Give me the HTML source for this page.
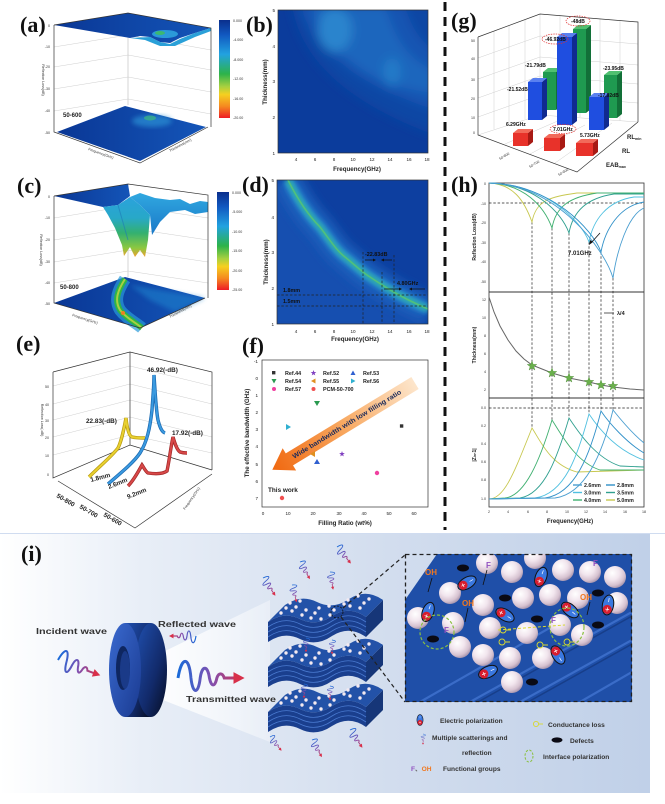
<!DOCTYPE html>
<html><head><meta charset="utf-8">
<style>
html,body{margin:0;padding:0;background:#fff;}
svg{display:block;}
text{font-family:"Liberation Sans",Arial,sans-serif;}
.pl{font-family:"Liberation Serif",serif;font-weight:bold;font-size:22px;fill:#111;}
.t{font-size:4.6px;fill:#222;}
.ts{font-size:3.6px;fill:#333;}
.b{font-weight:bold;}
.ax{fill:none;stroke:#333;stroke-width:.7;}
.gl{fill:none;stroke:#cfcfcf;stroke-width:.5;}
.dsh{fill:none;stroke:#222;stroke-width:.7;stroke-dasharray:2.5,1.8;}
</style></head><body>
<svg width="665" height="804" viewBox="0 0 665 804" xmlns="http://www.w3.org/2000/svg" xmlns:xlink="http://www.w3.org/1999/xlink">
<defs>
 <linearGradient id="cmap" x1="0" y1="0" x2="0" y2="1">
  <stop offset="0" stop-color="#0a2f8c"/><stop offset="0.15" stop-color="#1158c0"/>
  <stop offset="0.35" stop-color="#22a2e0"/><stop offset="0.55" stop-color="#2db34a"/>
  <stop offset="0.68" stop-color="#a8d040"/><stop offset="0.76" stop-color="#f5d020"/>
  <stop offset="0.88" stop-color="#f58a20"/><stop offset="1" stop-color="#ee1c25"/>
 </linearGradient>
 <linearGradient id="dbl" x1="0" y1="0" x2="1" y2="0">
  <stop offset="0" stop-color="#0a3795"/><stop offset="1" stop-color="#1455b8"/>
 </linearGradient>
 <linearGradient id="valley" x1="0" y1="0" x2="0" y2="1">
  <stop offset="0" stop-color="#2aa2dc"/><stop offset="0.35" stop-color="#28a8c8"/><stop offset="0.6" stop-color="#33b070"/>
  <stop offset="0.85" stop-color="#8cc840"/><stop offset="1" stop-color="#f0a030"/>
 </linearGradient>
 <linearGradient id="cyan" x1="0" y1="0" x2="0" y2="1">
  <stop offset="0" stop-color="#30a8e0"/><stop offset="1" stop-color="#1a78c8"/>
 </linearGradient>
 <linearGradient id="ibg" x1="0" y1="0" x2="1" y2="0">
  <stop offset="0" stop-color="#ffffff"/><stop offset="0.22" stop-color="#e8eef7"/>
  <stop offset="0.6" stop-color="#d2ddee"/><stop offset="1" stop-color="#c0d0e8"/>
 </linearGradient>
 <linearGradient id="wg" gradientUnits="userSpaceOnUse" x1="0" y1="0" x2="36" y2="0">
  <stop offset="0" stop-color="#1a6ad8"/><stop offset="0.5" stop-color="#8050b0"/><stop offset="1" stop-color="#d8304a"/>
 </linearGradient>
 <linearGradient id="arr" gradientUnits="userSpaceOnUse" x1="0" y1="0" x2="167" y2="0">
  <stop offset="0" stop-color="#fde6cc"/><stop offset="0.5" stop-color="#f8a860"/><stop offset="1" stop-color="#f06810"/>
 </linearGradient>
 <linearGradient id="ringb" x1="0" y1="0" x2="1" y2="1">
  <stop offset="0" stop-color="#2050b0"/><stop offset="0.6" stop-color="#122a6a"/><stop offset="1" stop-color="#060c20"/>
 </linearGradient>
 <linearGradient id="ringf" x1="0" y1="0" x2="1" y2="1">
  <stop offset="0" stop-color="#3a6ad0"/><stop offset="1" stop-color="#1a3a90"/>
 </linearGradient>
 <linearGradient id="cone" x1="0" y1="0" x2="1" y2="0">
  <stop offset="0" stop-color="#ffffff" stop-opacity="0.9"/><stop offset="1" stop-color="#ffffff" stop-opacity="0.35"/>
 </linearGradient>
 <radialGradient id="sph" cx="0.38" cy="0.32" r="0.7">
  <stop offset="0" stop-color="#ffffff"/><stop offset="0.45" stop-color="#f2e6ee"/>
  <stop offset="0.8" stop-color="#d6c2d0"/><stop offset="1" stop-color="#a896ae"/>
 </radialGradient>
 <filter id="bl" x="-20%" y="-20%" width="140%" height="140%"><feGaussianBlur stdDeviation="5"/></filter>
 <filter id="bl2" x="-20%" y="-20%" width="140%" height="140%"><feGaussianBlur stdDeviation="2.5"/></filter>
 <clipPath id="cb"><rect x="278" y="10" width="150" height="143"/></clipPath>
 <clipPath id="cd"><rect x="277" y="180" width="151" height="144"/></clipPath>
 <clipPath id="cin"><rect x="405" y="554" width="227" height="148"/></clipPath>
 <g id="wave">
  <path d="M0,0 C2,-12 6,-12 7,0 C8,9 11,9 12,0 C13,-7 16,-7 17,0 C18,5 20,5 21,0 C22,-3 24,-3 25,0 L31,0" fill="none" stroke="url(#wg)" stroke-width="1.6"/>
  <path d="M30,-3.2 L36,0 L30,3.2 Z" fill="#d8304a"/>
 </g>
 <g id="dip">
  <ellipse rx="10" ry="5.6" fill="#3a78e0" stroke="#111" stroke-width="1"/>
  <circle cx="-4.5" r="4.5" fill="#d81e2e"/>
  <path d="M-6.5,0h4M-4.5,-2v4M3,0h4" stroke="#fff" stroke-width=".7"/>
 </g>
 <path id="star" d="M0,-5 L1.18,-1.62 L4.76,-1.55 L1.9,0.62 L2.94,4.05 L0,2 L-2.94,4.05 L-1.9,0.62 L-4.76,-1.55 L-1.18,-1.62 Z" fill="#6ab04c" stroke="#4a8a34" stroke-width=".4"/>
 <path id="pstar" d="M0,-5 L1.18,-1.62 L4.76,-1.55 L1.9,0.62 L2.94,4.05 L0,2 L-2.94,4.05 L-1.9,0.62 L-4.76,-1.55 L-1.18,-1.62 Z" fill="#8040c0"/>
 <g id="stack">
  <path d="M268,622 Q284,611 300,619 Q316,627 332,616 Q349,605 366,617 L366,637 Q349,625 332,636 Q316,647 300,639 Q284,631 268,642 Z" fill="#1a3f8e"/>
  <path d="M366,617 L383,600 L383,620 L366,637 Z" fill="#163678"/>
  <path d="M268,627 Q284,616 300,624 Q316,632 332,621 Q349,610 366,622 M268,632 Q284,621 300,629 Q316,637 332,626 Q349,615 366,627 M268,637 Q284,626 300,634 Q316,642 332,631 Q349,620 366,632" fill="none" stroke="#4a7ad0" stroke-width=".8"/>
  <path d="M268,622 Q284,611 300,619 Q316,627 332,616 Q349,605 366,617 L383,600 Q366,588 349,599 Q333,610 317,602 Q301,594 285,605 Z" fill="#2352a8"/>
  <g fill="#f4eaf0">
   <circle cx="281" cy="613" r="1.7"/><circle cx="292" cy="611" r="1.7"/><circle cx="302" cy="615" r="1.7"/><circle cx="321" cy="619" r="1.7"/><circle cx="330" cy="615" r="1.7"/><circle cx="350" cy="606" r="1.7"/><circle cx="360" cy="608" r="1.7"/>
   <circle cx="286" cy="608" r="1.7"/><circle cx="306" cy="610" r="1.7"/><circle cx="315" cy="613" r="1.7"/><circle cx="334" cy="610" r="1.7"/><circle cx="344" cy="604" r="1.7"/><circle cx="364" cy="603" r="1.7"/>
   <circle cx="290" cy="603" r="1.7"/><circle cx="300" cy="601" r="1.7"/><circle cx="319" cy="608" r="1.7"/><circle cx="329" cy="606" r="1.7"/><circle cx="348" cy="600" r="1.7"/><circle cx="358" cy="596" r="1.7"/><circle cx="369" cy="599" r="1.7"/><circle cx="311" cy="618" r="1.7"/><circle cx="296" cy="607" r="1.7"/>
  </g>
 </g>
</defs>

<rect width="665" height="804" fill="#fff"/>

<!-- ============ (a) ============ -->
<text class="pl" x="20" y="32">(a)</text>
<path class="gl" d="M54,47 L128,35 M54,67 L128,55 M54,89 L128,77 M54,111 L128,99 M128,35 L211,50 M128,55 L211,70 M128,77 L211,92 M128,99 L211,114"/>
<path d="M128,13 L128,105" stroke="#bbb" stroke-width=".6"/>
<polygon points="57,132 125,106 206,127 140,161" fill="url(#dbl)"/>
<ellipse cx="152" cy="121" rx="20" ry="6" fill="#2a90d4" opacity=".7" filter="url(#bl2)"/>
<ellipse cx="150" cy="118" rx="6" ry="2.5" fill="#3cb880" opacity=".7"/>
<polygon points="54,25 128,13 211,28 195,33 180,38 170,43 160,42 150,37 140,36 130,38" fill="url(#dbl)"/>
<polygon points="130,38 150,37 160,42 170,44 180,39 195,33 211,28 211,31 195,37 175,46 160,46 145,40" fill="#2aa0d8"/>
<ellipse cx="165" cy="34" rx="13" ry="4" fill="#30a8e0" opacity=".85"/>
<ellipse cx="160" cy="33" rx="5" ry="2" fill="#3cb870"/>
<path class="ax" d="M54,25 L54,132 L140,163 L208,127 M54,25 L128,13 L211,28 L211,127"/>
<text class="ts" x="50" y="27" text-anchor="end">0</text>
<text class="ts" x="50" y="48" text-anchor="end">-10</text>
<text class="ts" x="50" y="68" text-anchor="end">-20</text>
<text class="ts" x="50" y="90" text-anchor="end">-30</text>
<text class="ts" x="50" y="112" text-anchor="end">-40</text>
<text class="ts" x="50" y="134" text-anchor="end">-50</text>
<text class="ts" transform="translate(42,80) rotate(90)" text-anchor="middle">Reflection Loss(dB)</text>
<text class="ts" transform="translate(88,150) rotate(20)">Frequency(GHz)</text>
<text class="ts" transform="translate(170,152) rotate(-28)">Thickness(mm)</text>
<text x="63" y="117" font-size="6" font-weight="bold" fill="#222">50-600</text>
<rect x="219" y="20" width="11" height="98" fill="url(#cmap)"/>
<g class="ts" font-size="3.4"><text x="233" y="22">0.000</text><text x="233" y="41">-4.000</text><text x="233" y="61">-8.000</text><text x="233" y="80">-12.00</text><text x="233" y="100">-16.00</text><text x="233" y="119">-20.00</text></g>

<!-- ============ (b) ============ -->
<text class="pl" x="246" y="32">(b)</text>
<rect x="278" y="10" width="150" height="143" fill="#0b3c9c"/>
<g clip-path="url(#cb)">
 <g filter="url(#bl)">
  <path d="M292,5 C300,55 340,100 435,135 L435,5 Z" fill="#0f46a4"/>
  <path d="M300,5 C312,45 350,82 435,110 L435,50 C420,42 410,25 405,5 Z" fill="#1554b2"/>
  <path d="M312,5 C320,38 346,62 380,80 C400,88 415,90 435,94 L435,70 C410,62 395,40 385,5 Z" fill="#1c66bd"/>
  <ellipse cx="335" cy="30" rx="17" ry="22" fill="#2a84cd"/>
  <ellipse cx="392" cy="72" rx="9" ry="14" fill="#247ac8"/>
 </g>
</g>
<rect x="278" y="10" width="150" height="143" class="ax"/>
<g class="t" text-anchor="end"><text x="275" y="12">5</text><text x="275" y="48">4</text><text x="275" y="83">3</text><text x="275" y="119">2</text><text x="275" y="155">1</text></g>
<g class="t" text-anchor="middle"><text x="296" y="161">4</text><text x="315" y="161">6</text><text x="334" y="161">8</text><text x="353" y="161">10</text><text x="372" y="161">12</text><text x="390" y="161">14</text><text x="409" y="161">16</text><text x="427" y="161">18</text></g>
<text x="357" y="171" font-size="6.2" font-weight="bold" fill="#222" text-anchor="middle">Frequency(GHz)</text>
<text transform="translate(267,82) rotate(-90)" font-size="6.2" font-weight="bold" fill="#222" text-anchor="middle">Thickness(mm)</text>

<!-- ============ (c) ============ -->
<text class="pl" x="17" y="193">(c)</text>
<path class="gl" d="M54,218 L128,206 M54,240 L128,228 M54,262 L128,250 M54,283 L128,271 M128,206 L208,218 M128,228 L208,240 M128,250 L208,262 M128,271 L208,283"/>
<path d="M128,184 L128,277" stroke="#bbb" stroke-width=".6"/>
<polygon points="54,303 125,277 205,298 140,328" fill="url(#dbl)"/>
<polygon points="130,285 205,298 175,312 150,300" fill="#1e80cc" opacity=".6" filter="url(#bl2)"/>
<path d="M125,279 C118,290 114,300 120,310 C126,318 135,322 142,328" fill="none" stroke="#2a9ad8" stroke-width="12" opacity=".7"/>
<path d="M125,279 C118,290 114,300 120,310 C126,318 135,322 142,328" fill="none" stroke="#2db34a" stroke-width="6"/>
<path d="M125,279 C118,290 114,300 120,310 C126,318 135,322 142,328" fill="none" stroke="#a8d040" stroke-width="2"/>
<circle cx="123" cy="313" r="2" fill="#f08020"/>
<polygon points="54,196 128,184 130,196 118,205 103,207" fill="url(#dbl)"/>
<polygon points="130,197 140,193 155,198 170,200 180,199 190,204 200,201 208,202 208,212 195,214 185,210 170,212 160,222 152,235 150,215 140,205" fill="url(#cyan)"/>
<polygon points="103,207 118,205 130,197 140,205 150,215 148,240 145,257 140,250 135,257 130,247 124,256 122,245 115,228 108,215" fill="url(#valley)"/>
<path d="M118,205 L128,240" stroke="#1e7ab8" stroke-width="1" opacity=".6"/>
<path class="ax" d="M54,196 L54,303 L140,328 M140,328 L205,298 M54,196 L128,184 L208,195 L208,298"/>
<text class="ts" x="50" y="198" text-anchor="end">0</text>
<text class="ts" x="50" y="219" text-anchor="end">-10</text>
<text class="ts" x="50" y="241" text-anchor="end">-20</text>
<text class="ts" x="50" y="263" text-anchor="end">-30</text>
<text class="ts" x="50" y="284" text-anchor="end">-40</text>
<text class="ts" x="50" y="305" text-anchor="end">-50</text>
<text class="ts" transform="translate(40,250) rotate(90)" text-anchor="middle">Reflection Loss(dB)</text>
<text class="ts" transform="translate(72,316) rotate(18)">Frequency(GHz)</text>
<text class="ts" transform="translate(170,318) rotate(-28)">Thickness(mm)</text>
<text x="60" y="289" font-size="6" font-weight="bold" fill="#222">50-800</text>
<rect x="217" y="192" width="12" height="98" fill="url(#cmap)"/>
<g class="ts" font-size="3.4"><text x="232" y="194">0.000</text><text x="232" y="213">-5.000</text><text x="232" y="233">-10.00</text><text x="232" y="252">-15.00</text><text x="232" y="272">-20.00</text><text x="232" y="291">-25.00</text></g>

<!-- ============ (d) ============ -->
<text class="pl" x="242" y="192">(d)</text>
<rect x="277" y="180" width="151" height="144" fill="#0d3fa0"/>
<g clip-path="url(#cd)">
 <path d="M270,180 L288,180 C298,200 308,215 320,227 C336,248 360,272 428,309 L428,330 L270,330 Z" fill="#1550b0" filter="url(#bl)"/>
 <path d="M288,180 C298,200 308,215 320,227 C330,240 336,250 345,257 C355,265 362,272 370,277 C385,287 400,297 428,309" fill="none" stroke="#1c60bc" stroke-width="26" filter="url(#bl)"/>
 <path d="M288,180 C298,200 308,215 320,227 C330,240 336,250 345,257 C355,265 362,272 370,277 C385,287 400,297 428,309" fill="none" stroke="#2898d4" stroke-width="10" filter="url(#bl2)"/>
 <path d="M288,180 C298,200 308,215 320,227 C330,240 336,250 345,257 C355,265 362,272 370,277 C385,287 400,297 428,309" fill="none" stroke="#38b48a" stroke-width="3.5" filter="url(#bl2)"/>
 <path d="M288,180 C298,200 308,215 320,227 C330,240 336,250 345,257 C355,265 362,272 370,277 C385,287 400,297 428,309" fill="none" stroke="#50c07c" stroke-width="1.6"/>
</g>
<path class="dsh" d="M277,295 L428,295 M277,306 L428,306 M363,252 L363,324 M382,272 L382,324 M394,255 L394,324"/>
<path d="M365,260 L373,260 M392,260 L384,260 M384,289 L399,289 M425,289 L412,289" stroke="#111" stroke-width=".7"/>
<path d="M373,258.5 L376,260 L373,261.5Z M384,258.5 L381,260 L384,261.5Z M399,287.5 L402,289 L399,290.5Z M412,287.5 L409,289 L412,290.5Z" fill="#111"/>
<text x="365" y="256" font-size="5.4" font-weight="bold" fill="#111">-22.83dB</text>
<text x="397" y="285" font-size="5.4" font-weight="bold" fill="#111">4.80GHz</text>
<text x="283" y="292" font-size="5.4" font-weight="bold" fill="#111">1.8mm</text>
<text x="283" y="303" font-size="5.4" font-weight="bold" fill="#111">1.5mm</text>
<rect x="277" y="180" width="151" height="144" class="ax"/>
<g class="t" text-anchor="end"><text x="274" y="182">5</text><text x="274" y="219">4</text><text x="274" y="254">3</text><text x="274" y="290">2</text><text x="274" y="326">1</text></g>
<g class="t" text-anchor="middle"><text x="296" y="333">4</text><text x="315" y="333">6</text><text x="334" y="333">8</text><text x="353" y="333">10</text><text x="372" y="333">12</text><text x="390" y="333">14</text><text x="409" y="333">16</text><text x="427" y="333">18</text></g>
<text x="355" y="341" font-size="6.2" font-weight="bold" fill="#222" text-anchor="middle">Frequency(GHz)</text>
<text transform="translate(268,262) rotate(-90)" font-size="6.2" font-weight="bold" fill="#222" text-anchor="middle">Thickness(mm)</text>

<!-- ============ (e) ============ -->
<text class="pl" x="16" y="351">(e)</text>
<path class="gl" d="M53,386 L130,366 M53,404 L130,384 M53,420 L130,400 M53,437 L130,417 M53,455 L130,435 M130,366 L212,386 M130,384 L212,404 M130,400 L212,420 M130,417 L212,437 M130,435 L212,453"/>
<path class="ax" d="M53,372 L53,478 L130,445 L212,470 M53,372 L130,352 L212,372 L212,470 M130,352 L130,445 M58,481 L135,528 L212,474"/>
<g class="ts"><text x="49" y="388" text-anchor="end">50</text><text x="49" y="406" text-anchor="end">40</text><text x="49" y="422" text-anchor="end">30</text><text x="49" y="439" text-anchor="end">20</text><text x="49" y="457" text-anchor="end">10</text><text x="49" y="476" text-anchor="end">0</text></g>
<text class="ts" transform="translate(41,420) rotate(90)" text-anchor="middle">Reflection Loss(-dB)</text>
<text class="ts" transform="translate(185,510) rotate(-55)">Frequency(GHz)</text>
<path d="M89,477 C100,466 112,456 118,448 C122,440 124,428 126,418 C127,428 129,436 132,437 C136,438 140,438 145,438" fill="none" stroke="#b89a10" stroke-width="3.4"/>
<path d="M89,477 C100,466 112,456 118,448 C122,440 124,428 126,418 C127,428 129,436 132,437 C136,438 140,438 145,438" fill="none" stroke="#e8d030" stroke-width="2"/>
<path d="M108,484 C122,472 134,462 140,453 C147,442 150,428 152,410 C153,395 154,385 154,375 C155,390 156,410 158,420 C160,428 162,432 165,433" fill="none" stroke="#1a68b0" stroke-width="3.4"/>
<path d="M108,484 C122,472 134,462 140,453 C147,442 150,428 152,410 C153,395 154,385 154,375 C155,390 156,410 158,420 C160,428 162,432 165,433" fill="none" stroke="#3a9ae0" stroke-width="2"/>
<path d="M128,486 C134,480 138,472 142,465 C144,468 146,472 148,473 C155,474 163,474 167,471 C169,462 171,446 173,437 C175,444 177,450 180,452 C183,453 185,453 187,453" fill="none" stroke="#a02828" stroke-width="3.4"/>
<path d="M128,486 C134,480 138,472 142,465 C144,468 146,472 148,473 C155,474 163,474 167,471 C169,462 171,446 173,437 C175,444 177,450 180,452 C183,453 185,453 187,453" fill="none" stroke="#d84848" stroke-width="2"/>
<g font-size="6.4" font-weight="bold" fill="#222">
 <text x="147" y="372">46.92(-dB)</text>
 <text x="86" y="423">22.83(-dB)</text>
 <text x="172" y="435">17.92(-dB)</text>
 <text transform="translate(91,482) rotate(-15)">1.8mm</text>
 <text transform="translate(109,489) rotate(-22)">2.6mm</text>
 <text transform="translate(128,499) rotate(-22)">9.2mm</text>
 <text transform="translate(56,497) rotate(30)">50-800</text>
 <text transform="translate(79,508) rotate(30)">50-700</text>
 <text transform="translate(103,516) rotate(30)">50-600</text>
</g>

<!-- ============ (f) ============ -->
<text class="pl" x="242" y="353">(f)</text>
<rect x="262" y="360" width="166" height="147" class="ax" stroke-width=".9"/>
<g transform="translate(415,383) rotate(148.7)">
 <polygon points="0,-7 147,-7 147,-13 167,0 147,13 147,7 0,7" fill="url(#arr)"/>
</g>
<text transform="translate(348,426) rotate(-31.3)" font-size="6.6" font-weight="bold" fill="#1a2a5a" text-anchor="middle" textLength="126" lengthAdjust="spacingAndGlyphs">Wide bandwidth with low filling ratio</text>
<rect x="272" y="371" width="3.4" height="3.4" fill="#333"/>
<use xlink:href="#pstar" transform="translate(313.5,373) scale(.6)"/>
<polygon points="350.5,375 355.5,375 353,370.5" fill="#3060d0"/>
<polygon points="271.5,379 276.5,379 274,383.5" fill="#2a9a50"/>
<polygon points="315.5,378.5 315.5,383.5 311,381" fill="#e09020"/>
<polygon points="351,378.5 351,383.5 355.5,381" fill="#30b0d0"/>
<circle cx="274" cy="389" r="2" fill="#f040a0"/>
<circle cx="313.5" cy="389" r="2" fill="#f05050"/>
<g font-size="5.4" font-weight="bold" fill="#222">
 <text x="285" y="375">Ref.44</text><text x="323" y="375">Ref.52</text><text x="363" y="375">Ref.53</text>
 <text x="285" y="383">Ref.54</text><text x="323" y="383">Ref.55</text><text x="363" y="383">Ref.56</text>
 <text x="285" y="391">Ref.57</text><text x="323" y="391">PCM-50-700</text>
</g>
<rect x="399.9" y="424.3" width="3.4" height="3.4" fill="#333"/>
<polygon points="314,401 320,401 317,406" fill="#2a9a50"/>
<polygon points="286,424 286,430 291,427" fill="#30b0d0"/>
<polygon points="315,451 315,457 310,454" fill="#e09020"/>
<use xlink:href="#pstar" transform="translate(342,454) scale(.6)"/>
<polygon points="314,464 320,464 317,459" fill="#3060d0"/>
<circle cx="377" cy="473" r="2.2" fill="#f040a0"/>
<circle cx="282" cy="498" r="2.2" fill="#f05050"/>
<text x="268" y="492" font-size="6.4" font-weight="bold" fill="#222">This work</text>
<g class="t" text-anchor="end"><text x="258" y="363">-1</text><text x="258" y="380">0</text><text x="258" y="397">1</text><text x="258" y="414">2</text><text x="258" y="431">3</text><text x="258" y="448">4</text><text x="258" y="466">5</text><text x="258" y="483">6</text><text x="258" y="500">7</text></g>
<g class="t" text-anchor="middle"><text x="263" y="515">0</text><text x="288" y="515">10</text><text x="313" y="515">20</text><text x="339" y="515">30</text><text x="364" y="515">40</text><text x="389" y="515">50</text><text x="414" y="515">60</text></g>
<text x="345" y="525" font-size="6.2" font-weight="bold" fill="#222" text-anchor="middle">Filling Ratio (wt%)</text>
<text transform="translate(249,433) rotate(-90)" font-size="6.2" font-weight="bold" fill="#222" text-anchor="middle">The effective bandwidth (GHz)</text>

<!-- separator -->
<line x1="445" y1="2" x2="445" y2="530" stroke="#111" stroke-width="3" stroke-dasharray="9,6"/>

<!-- ============ (g) ============ -->
<text class="pl" x="451" y="28">(g)</text>
<path class="gl" d="M478,58 L540,36 M478,79 L540,57 M478,98 L540,76 M478,117 L540,95 M540,36 L638,44 M540,57 L638,65 M540,76 L638,84 M540,95 L638,103 M560,15.6 L560,116 M580,17.2 L580,117 M600,18.8 L600,119 M620,20.4 L620,121 M494,31 L494,129 M509,26 L509,124 M525,20 L525,119 M540,14 L540,115 L638,122 M540,115 L478,135 M505,144 L560,120 M530,154 L585,125 M555,163 L612,123"/>
<path class="ax" d="M478,37 L540,14 L638,22 L638,122 M478,37 L478,135 L577,172 L638,122"/>
<g class="ts"><text x="475" y="42" text-anchor="end">50</text><text x="475" y="60" text-anchor="end">40</text><text x="475" y="81" text-anchor="end">30</text><text x="475" y="100" text-anchor="end">20</text><text x="475" y="119" text-anchor="end">10</text><text x="475" y="134" text-anchor="end">0</text></g>
<g class="ts"><text transform="translate(500,160) rotate(-30)">50-800</text><text transform="translate(530,168) rotate(-30)">50-700</text><text transform="translate(559,176) rotate(-30)">50-600</text></g>
<g>
 <rect x="543" y="72" width="13" height="38" fill="#1f9a50"/><polygon points="556,72 561,68 561,106 556,110" fill="#127038"/><polygon points="543,72 556,72 561,68 548,68" fill="#50c070"/>
 <rect x="573" y="29" width="13" height="84" fill="#1f9a50"/><polygon points="586,29 591,25 591,109 586,113" fill="#127038"/><polygon points="573,29 586,29 591,25 578,25" fill="#50c070"/>
 <rect x="604" y="75" width="13" height="43" fill="#1f9a50"/><polygon points="617,75 622,71 622,114 617,118" fill="#127038"/><polygon points="604,75 617,75 622,71 609,71" fill="#50c070"/>
</g>
<g>
 <rect x="528" y="82" width="14" height="38" fill="#1f4ee0"/><polygon points="542,82 547,78 547,116 542,120" fill="#102a90"/><polygon points="528,82 542,82 547,78 533,78" fill="#5a80f0"/>
 <rect x="557" y="37" width="15" height="88" fill="#1f4ee0"/><polygon points="572,37 577,33 577,121 572,125" fill="#102a90"/><polygon points="557,37 572,37 577,33 562,33" fill="#5a80f0"/>
 <rect x="589" y="97" width="15" height="33" fill="#1f4ee0"/><polygon points="604,97 609,93 609,126 604,130" fill="#102a90"/><polygon points="589,97 604,97 609,93 594,93" fill="#5a80f0"/>
</g>
<g>
 <rect x="513" y="133" width="15" height="13" fill="#e8322a"/><polygon points="528,133 533,129 533,142 528,146" fill="#a81a14"/><polygon points="513,133 528,133 533,129 518,129" fill="#f26a5a"/>
 <rect x="544" y="138" width="16" height="13" fill="#e8322a"/><polygon points="560,138 565,134 565,147 560,151" fill="#a81a14"/><polygon points="544,138 560,138 565,134 549,134" fill="#f26a5a"/>
 <rect x="576" y="143" width="17" height="13" fill="#e8322a"/><polygon points="593,143 598,139 598,152 593,156" fill="#a81a14"/><polygon points="576,143 593,143 598,139 581,139" fill="#f26a5a"/>
</g>
<g fill="none" stroke="#e03030" stroke-width=".7" stroke-dasharray="1.5,1">
 <ellipse cx="578" cy="21" rx="12" ry="5"/><ellipse cx="555" cy="39" rx="13" ry="5"/><ellipse cx="563" cy="129" rx="13" ry="4.5"/>
</g>
<g font-size="5" font-weight="bold" fill="#111">
 <text x="507" y="91">-21.52dB</text>
 <text x="525" y="67">-21.79dB</text>
 <text x="545" y="41">-46.92dB</text>
 <text x="571" y="23">-48dB</text>
 <text x="603" y="70">-23.95dB</text>
 <text x="598" y="97">-17.92dB</text>
 <text x="506" y="126">6.29GHz</text>
 <text x="553" y="131">7.01GHz</text>
 <text x="580" y="137">5.73GHz</text>
</g>
<g font-size="6" font-weight="bold" fill="#222">
 <text x="627" y="139">RL<tspan font-size="3.6" dy="1">min</tspan></text>
 <text x="622" y="153">RL</text>
 <text x="606" y="167">EAB<tspan font-size="3.6" dy="1">max</tspan></text>
</g>

<!-- ============ (h) ============ -->
<text class="pl" x="451" y="192">(h)</text>
<rect x="489" y="183" width="155" height="324" fill="none" stroke="#333" stroke-width=".8"/>
<line x1="489" y1="292" x2="644" y2="292" stroke="#333" stroke-width="1"/>
<line x1="489" y1="398" x2="644" y2="398" stroke="#333" stroke-width="1"/>
<path class="dsh" d="M489,203 L644,203 M489,408 L644,408 M532,222 L532,428 M552,228 L552,420 M569,233 L569,418 M589,242 L589,414 M601,252 L601,411 M613,278 L613,410" stroke-dasharray="3,2"/>
<g fill="none" stroke-width=".9">
 <path stroke="#c8c850" d="M489,183 C513,184 524,200 532,222 C536,200 550,197 577,193 L644,193"/>
 <path stroke="#40b070" d="M489,183 C524,184 544,206 552,228 C556,206 570,197 597,193 L644,193"/>
 <path stroke="#30a090" d="M489,183 C533,184 561,211 569,233 C573,211 587,198 614,194 L644,194"/>
 <path stroke="#50c0e0" d="M489,183 C544,184 581,220 589,242 C593,220 607,201 634,197 L644,197"/>
 <path stroke="#3090c8" d="M489,183 C551,184 593,230 601,252 C605,230 619,206 644,202"/>
 <path stroke="#4a9ed0" d="M489,183 C557,184 605,250 613,278 C617,250 628,215 644,208"/>
 <path stroke="#c8c850" d="M489,499 C505,499 515,470 532,428 C540,440 550,465 577,472 L644,470"/>
 <path stroke="#40b070" d="M489,499 L505,498 C525,496 540,460 552,420 C560,432 575,462 600,470 L644,470"/>
 <path stroke="#30a090" d="M489,499 L520,498 C545,494 558,455 569,418 C577,430 595,458 620,466 L644,467"/>
 <path stroke="#50c0e0" d="M489,499 L535,498 C565,494 578,455 589,414 C597,426 615,450 644,460"/>
 <path stroke="#3090c8" d="M489,499 L545,498 C575,494 590,455 601,411 C609,423 627,443 644,453"/>
 <path stroke="#4a9ed0" d="M489,499 L555,498 C585,494 602,455 613,410 C621,420 634,435 644,443"/>
 <polyline stroke="#666" stroke-width="1" points="489,297 494,312 500,326 508,340 516,351 524,359 532,365 542,369 552,373 569,378 589,382 601,385 613,387 630,389 644,390"/>
</g>
<use xlink:href="#star" x="532" y="366"/><use xlink:href="#star" x="552" y="373"/><use xlink:href="#star" x="569" y="378"/><use xlink:href="#star" x="589" y="382"/><use xlink:href="#star" x="601" y="385"/><use xlink:href="#star" x="613" y="386"/>
<line x1="604" y1="313" x2="614" y2="313" stroke="#333" stroke-width=".8"/>
<text x="617" y="315" font-size="5.5" font-weight="bold" fill="#222">λ/4</text>
<path d="M600,233 L591,243" stroke="#111" stroke-width=".8"/><path d="M589,245 L590,240 L593,242 Z" fill="#111"/>
<text x="568" y="255" font-size="6" font-weight="bold" fill="#222">7.01GHz</text>
<g class="ts" text-anchor="end"><text x="486" y="185">0</text><text x="486" y="205">-10</text><text x="486" y="224">-20</text><text x="486" y="244">-30</text><text x="486" y="263">-40</text><text x="486" y="283">-50</text>
<text x="486" y="301">12</text><text x="486" y="319">10</text><text x="486" y="337">8</text><text x="486" y="355">6</text><text x="486" y="373">4</text><text x="486" y="391">2</text>
<text x="486" y="409">0.0</text><text x="486" y="427">0.2</text><text x="486" y="445">0.4</text><text x="486" y="463">0.6</text><text x="486" y="481">0.8</text><text x="486" y="500">1.0</text></g>
<g class="ts" text-anchor="middle"><text x="489" y="513">2</text><text x="508" y="513">4</text><text x="528" y="513">6</text><text x="547" y="513">8</text><text x="567" y="513">10</text><text x="586" y="513">12</text><text x="605" y="513">14</text><text x="625" y="513">16</text><text x="644" y="513">18</text></g>
<text x="570" y="523" font-size="6" font-weight="bold" fill="#222" text-anchor="middle">Frequency(GHz)</text>
<g font-size="5" font-weight="bold" fill="#222" text-anchor="middle">
 <text transform="translate(476,237) rotate(-90)">Reflection Loss(dB)</text>
 <text transform="translate(476,345) rotate(-90)">Thickness(mm)</text>
 <text transform="translate(476,455) rotate(-90)">|Z<tspan font-size="3.4">in</tspan>-1|</text>
</g>
<g stroke-width="1.4">
 <line x1="573" y1="485" x2="582" y2="485" stroke="#4a9ed0"/><line x1="606" y1="485" x2="615" y2="485" stroke="#3090c8"/>
 <line x1="573" y1="492.5" x2="582" y2="492.5" stroke="#50c0e0"/><line x1="606" y1="492.5" x2="615" y2="492.5" stroke="#30a090"/>
 <line x1="573" y1="500" x2="582" y2="500" stroke="#40b070"/><line x1="606" y1="500" x2="615" y2="500" stroke="#c8c850"/>
</g>
<g font-size="5.3" font-weight="bold" fill="#222">
 <text x="584" y="487">2.6mm</text><text x="617" y="487">2.8mm</text>
 <text x="584" y="494.5">3.0mm</text><text x="617" y="494.5">3.5mm</text>
 <text x="584" y="502">4.0mm</text><text x="617" y="502">5.0mm</text>
</g>

<!-- ============ (i) ============ -->
<rect x="0" y="533" width="650" height="260" fill="url(#ibg)"/>
<line x1="0" y1="533.5" x2="665" y2="533.5" stroke="#d0dcf0" stroke-width="1"/>
<text class="pl" x="21" y="561">(i)</text>
<polygon points="163,652 163,700 270,742 270,600" fill="url(#cone)"/>
<rect x="125" y="623" width="26" height="94" fill="url(#ringb)"/>
<ellipse cx="151" cy="670" rx="16" ry="47" fill="url(#ringb)"/>
<ellipse cx="125" cy="670" rx="16" ry="47" fill="url(#ringf)"/>
<ellipse cx="123" cy="668" rx="7" ry="22" fill="#0e2660"/>
<ellipse cx="125" cy="670" rx="5" ry="19" fill="#1a3a88"/>
<g font-size="8.6" font-weight="bold" fill="#333">
 <text x="36" y="634" textLength="71" lengthAdjust="spacingAndGlyphs">Incident wave</text>
 <text x="158" y="627" textLength="78" lengthAdjust="spacingAndGlyphs">Reflected wave</text>
 <text x="186" y="702" textLength="90" lengthAdjust="spacingAndGlyphs">Transmitted wave</text>
</g>
<use xlink:href="#wave" transform="translate(58,660) rotate(20) scale(1.25)"/>
<use xlink:href="#wave" transform="translate(178,678) scale(1.85)"/>
<use xlink:href="#wave" transform="translate(196,636) rotate(180) scale(.75)"/>
<use xlink:href="#stack"/>
<use xlink:href="#stack" transform="translate(0,45)"/>
<use xlink:href="#stack" transform="translate(0,90)"/>
<use xlink:href="#wave" transform="translate(263,578) rotate(55) scale(.6)"/>
<use xlink:href="#wave" transform="translate(292,585) rotate(75) scale(.5)"/>
<use xlink:href="#wave" transform="translate(300,562) rotate(60) scale(.55)"/>
<use xlink:href="#wave" transform="translate(330,572) rotate(80) scale(.5)"/>
<use xlink:href="#wave" transform="translate(337,547) rotate(50) scale(.6)"/>
<use xlink:href="#wave" transform="translate(270,737) rotate(50) scale(.5)"/>
<use xlink:href="#wave" transform="translate(312,740) rotate(60) scale(.55)"/>
<use xlink:href="#wave" transform="translate(350,730) rotate(55) scale(.6)"/>
<use xlink:href="#wave" transform="translate(306,638) rotate(90) scale(.4)"/>
<use xlink:href="#wave" transform="translate(332,640) rotate(90) scale(.4)"/>
<use xlink:href="#wave" transform="translate(304,684) rotate(90) scale(.4)"/>
<use xlink:href="#wave" transform="translate(330,686) rotate(90) scale(.4)"/>
<circle cx="337" cy="612" r="6" fill="none" stroke="#111" stroke-width=".8" stroke-dasharray="2,1.5"/>
<path d="M343,608 L405,555 M341,617 L405,702" stroke="#222" stroke-width="1.2" stroke-dasharray="4,3"/>
<g clip-path="url(#cin)">
 <polygon points="405,600 437,554 632,554 632,702 405,702" fill="#1f4fa8"/>
 <path d="M470,702 L632,612 M520,702 L632,640 M580,702 L632,672 M420,702 L560,622" stroke="#3a6cc8" stroke-width="2.2"/>
 <path d="M478,702 L632,616 M528,702 L632,644" stroke="#173e8a" stroke-width="1.5"/>
 <g fill="#0a0a14">
  <ellipse cx="463" cy="568" rx="6" ry="3.5"/><ellipse cx="505" cy="598" rx="6" ry="3.5"/><ellipse cx="537" cy="619" rx="6" ry="3.5"/>
  <ellipse cx="598" cy="593" rx="6" ry="3.5"/><ellipse cx="598" cy="625" rx="6" ry="3.5"/><ellipse cx="433" cy="639" rx="6" ry="3.5"/><ellipse cx="532" cy="682" rx="6" ry="3.5"/>
 </g>
 <g fill="url(#sph)">
  <circle cx="487" cy="563" r="11"/><circle cx="512" cy="572" r="11"/><circle cx="535" cy="558" r="11"/><circle cx="563" cy="570" r="11"/><circle cx="590" cy="572" r="11"/><circle cx="615" cy="577" r="11"/>
  <circle cx="450" cy="593" r="11"/><circle cx="483" cy="605" r="11"/><circle cx="523" cy="598" r="11"/><circle cx="550" cy="595" r="11"/><circle cx="578" cy="598" r="11"/><circle cx="617" cy="603" r="11"/>
  <circle cx="418" cy="618" r="11"/><circle cx="453" cy="623" r="11"/><circle cx="490" cy="628" r="11"/><circle cx="527" cy="633" r="11"/><circle cx="560" cy="625" r="11"/><circle cx="582" cy="635" r="11"/>
  <circle cx="460" cy="647" r="11"/><circle cx="483" cy="655" r="11"/><circle cx="510" cy="658" r="11"/><circle cx="543" cy="658" r="11"/><circle cx="512" cy="682" r="11"/>
 </g>
 <use xlink:href="#dip" transform="translate(467,583) rotate(-30)"/>
 <use xlink:href="#dip" transform="translate(541,577) rotate(-70)"/>
 <use xlink:href="#dip" transform="translate(428,612) rotate(-70)"/>
 <use xlink:href="#dip" transform="translate(505,615) rotate(30)"/>
 <use xlink:href="#dip" transform="translate(570,610) rotate(40)"/>
 <use xlink:href="#dip" transform="translate(608,605) rotate(-80)"/>
 <use xlink:href="#dip" transform="translate(558,655) rotate(60)"/>
 <use xlink:href="#dip" transform="translate(488,672) rotate(-25)"/>
 <g fill="none" stroke="#8ac040" stroke-width="1.2" stroke-dasharray="3,2">
  <ellipse cx="437" cy="632" rx="17" ry="17"/><ellipse cx="567" cy="627" rx="17" ry="19"/>
 </g>
 <path d="M498,630 L565,625" stroke="#d8d830" stroke-width="1" stroke-dasharray="3,2"/>
 <g fill="none" stroke="#d8d830" stroke-width=".9">
  <circle cx="503" cy="630" r="3"/><circle cx="502" cy="642" r="3"/><circle cx="540" cy="645" r="3"/><circle cx="567" cy="642" r="3"/>
  <path d="M506,630 h5 M505,642 h5 M543,645 h5 M570,642 h5"/>
 </g>
 <g font-size="8" font-weight="bold">
  <text x="425" y="575" fill="#f07820">OH</text><text x="462" y="606" fill="#f07820">OH</text><text x="580" y="600" fill="#f07820">OH</text>
  <text x="486" y="568" fill="#9050c0">F</text><text x="444" y="633" fill="#9050c0">F</text><text x="551" y="623" fill="#9050c0">F</text><text x="593" y="566" fill="#9050c0">F</text>
 </g>
 <path d="M432,578 L428,592 M468,608 L465,622 M487,570 L483,585 M590,602 L587,615" stroke="#111" stroke-width=".8"/>
</g>
<rect x="405.5" y="554.5" width="226" height="147" fill="none" stroke="#222" stroke-width="1.3" stroke-dasharray="4,3"/>
<use xlink:href="#dip" transform="translate(420,720) rotate(-90) scale(.55)"/>
<use xlink:href="#wave" transform="translate(423,734) rotate(90) scale(.3)"/>
<circle cx="536" cy="724" r="2.6" fill="none" stroke="#d8d830" stroke-width=".9"/><path d="M539,724 h4" stroke="#d8d830" stroke-width=".9"/>
<ellipse cx="557" cy="740" rx="5.5" ry="2.6" fill="#0a0a14"/>
<ellipse cx="529" cy="756" rx="4" ry="6" fill="none" stroke="#8ac040" stroke-width="1" stroke-dasharray="2.5,1.5"/>
<g font-size="6.6" font-weight="bold" fill="#333">
 <text x="440" y="723">Electric polarization</text>
 <text x="548" y="727">Conductance loss</text>
 <text x="432" y="740">Multiple scatterings and</text>
 <text x="462" y="755">reflection</text>
 <text x="570" y="743">Defects</text>
 <text x="543" y="759">Interface polarization</text>
 <text x="411" y="771" fill="#9050c0">F<tspan fill="#666" font-family="Noto Sans CJK SC, sans-serif">、</tspan><tspan fill="#f07820">OH</tspan></text>
 <text x="443" y="771">Functional groups</text>
</g>
</svg>
</body></html>
